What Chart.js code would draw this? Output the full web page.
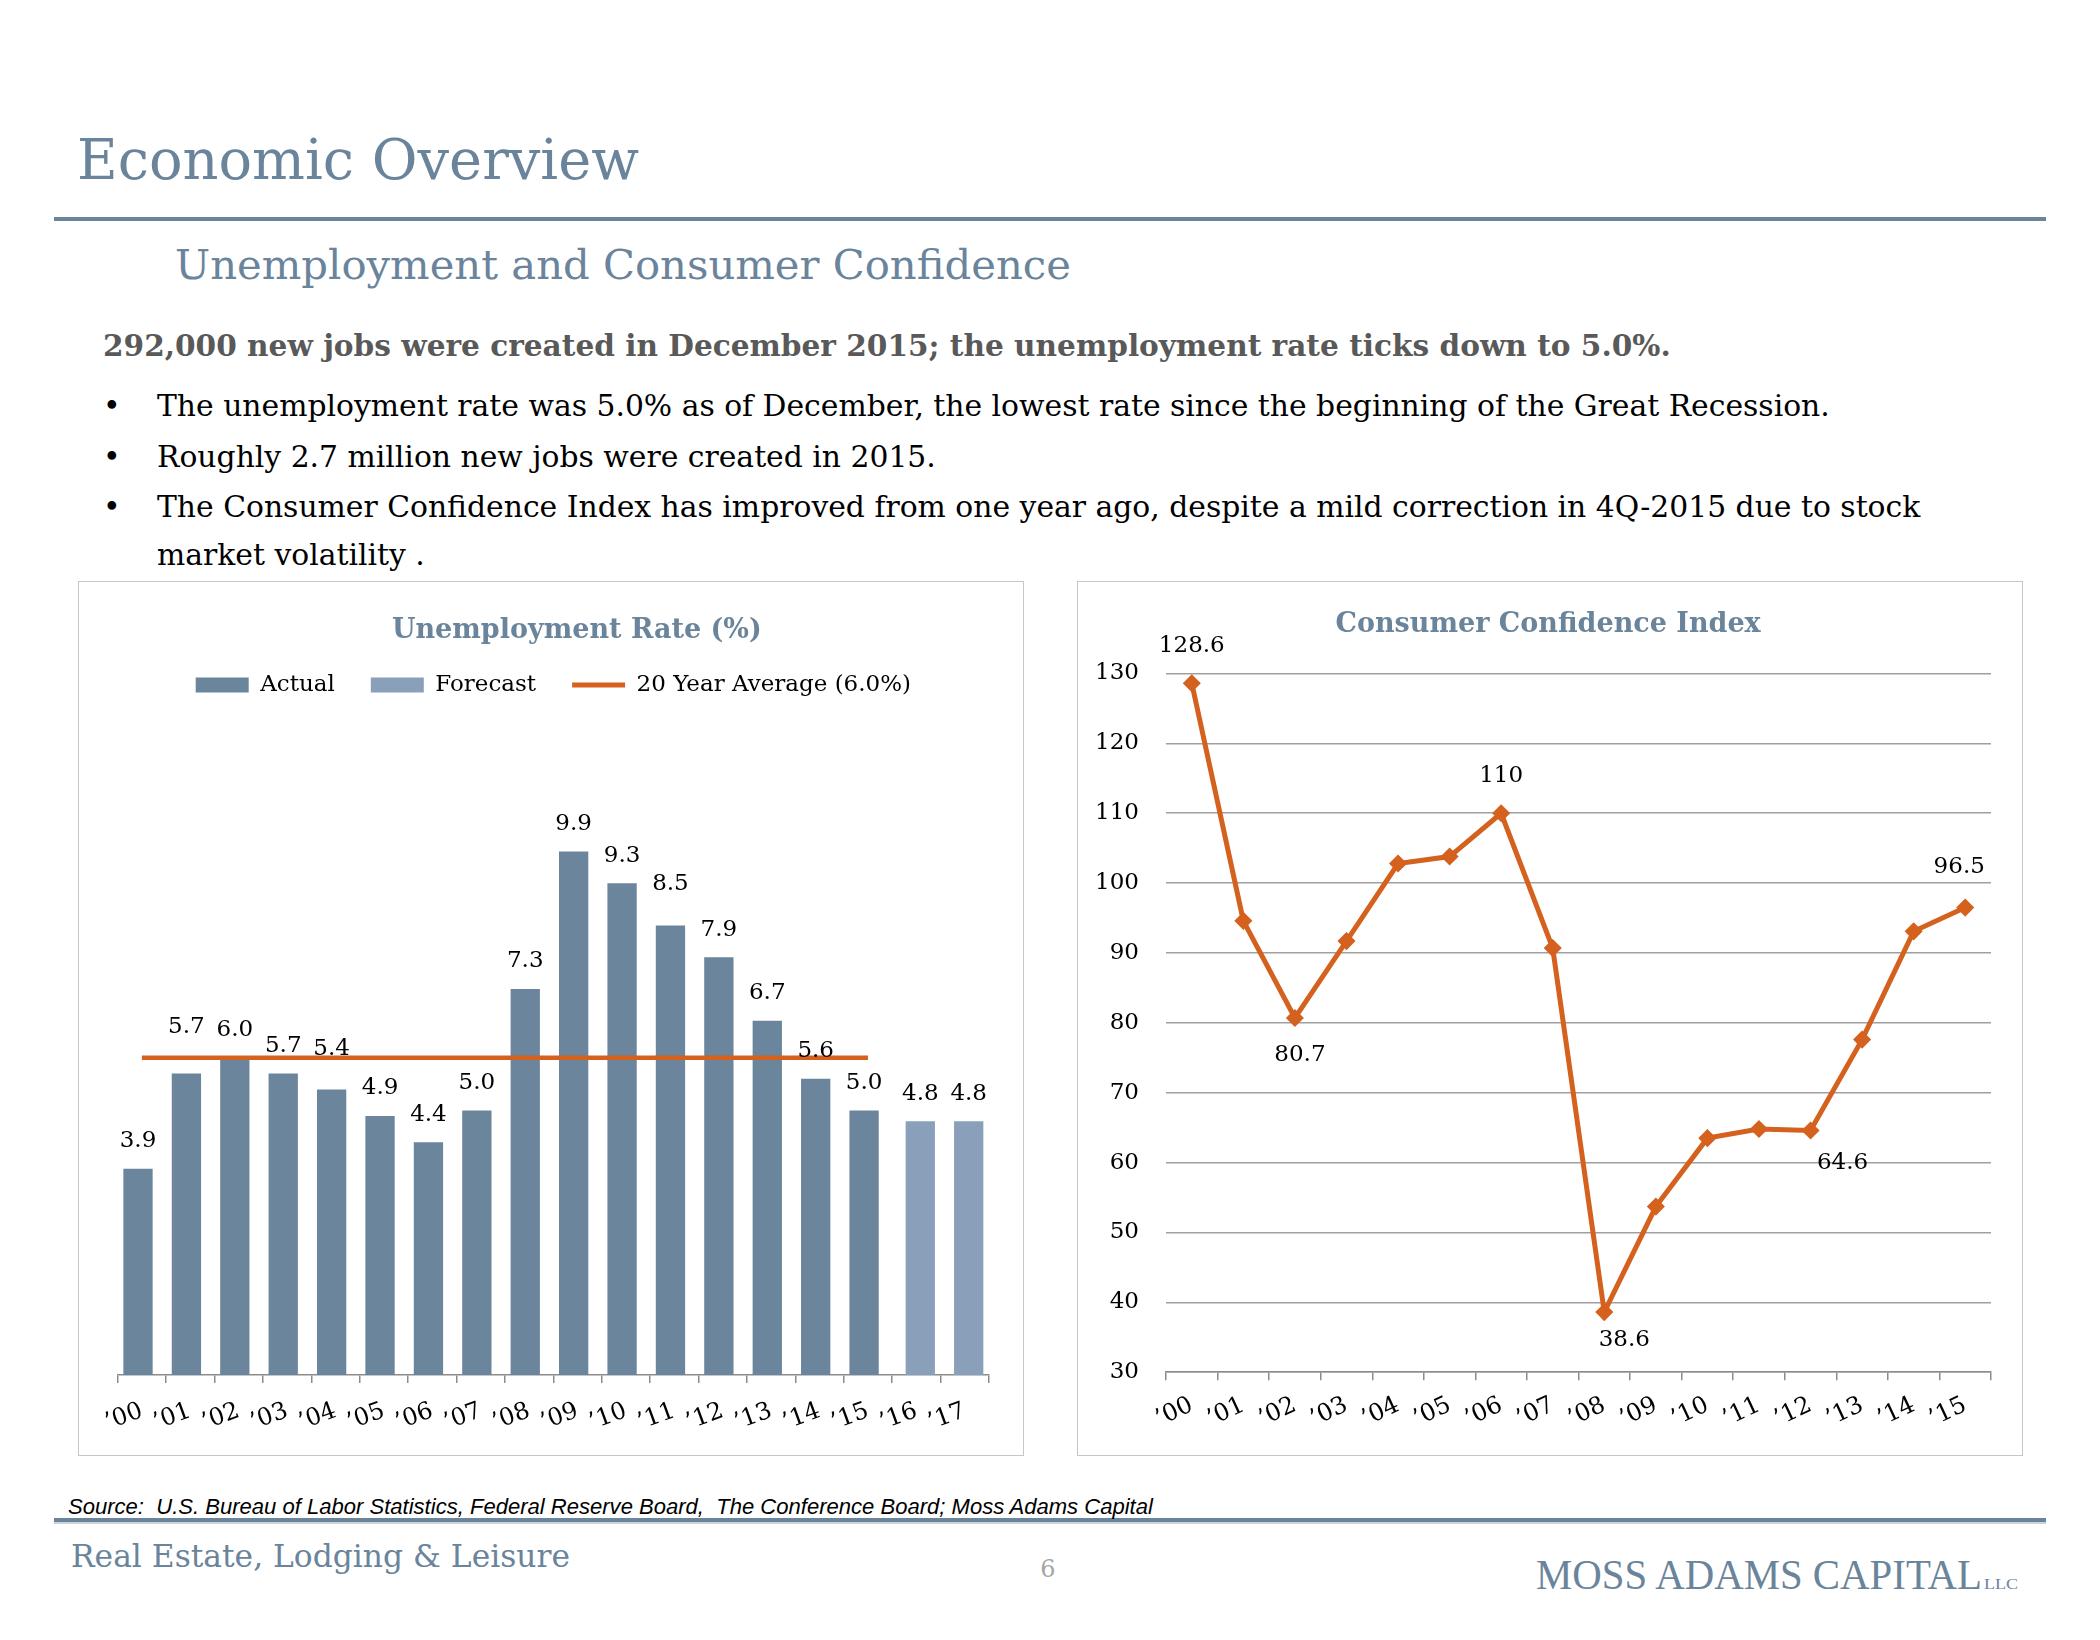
<!DOCTYPE html>
<html>
<head>
<meta charset="utf-8">
<title>Economic Overview</title>
<script src="https://cdn.jsdelivr.net/npm/chart.js@4.4.1/dist/chart.umd.min.js"></script>
<style>
  html, body { margin: 0; padding: 0; background: #fff; }
  #page { position: relative; width: 2100px; height: 1640px; overflow: hidden; background: #fff; }
  #txt { position: absolute; left: 0; top: 0; }
  #txt text { white-space: pre; }
  .box { position: absolute; border: 1.5px solid #c6c6c6; box-sizing: border-box; }
  canvas { position: absolute; }
</style>
</head>
<body>
<div id="page">
  <svg id="txt" width="2100" height="1640" xmlns="http://www.w3.org/2000/svg"></svg>
  <div class="box" style="left:78px;top:581px;width:946px;height:875px"></div>
  <div class="box" style="left:1077px;top:581px;width:946px;height:875px"></div>
  <canvas id="unempChart" width="945" height="874" style="left:78px;top:581px"></canvas>
  <canvas id="cciChart" width="945" height="874" style="left:1077px;top:581px"></canvas>
</div>
<script>
// --- data ---
const years = ['\u201900', '\u201901', '\u201902', '\u201903', '\u201904', '\u201905', '\u201906', '\u201907', '\u201908',
               '\u201909', '\u201910', '\u201911', '\u201912', '\u201913', '\u201914', '\u201915', '\u201916', '\u201917'];
const unempActual   = [3.9, 5.7, 6.0, 5.7, 5.4, 4.9, 4.4, 5.0, 7.3, 9.9, 9.3, 8.5, 7.9, 6.7, 5.6, 5.0, null, null];
const unempForecast = [null, null, null, null, null, null, null, null, null, null, null, null, null, null, null, null, 4.8, 4.8];
const avg20Year     = [6.0, 6.0, 6.0, 6.0, 6.0, 6.0, 6.0, 6.0, 6.0, 6.0, 6.0, 6.0, 6.0, 6.0, 6.0, 6.0, null, null];

const cciYears  = ['\u201900', '\u201901', '\u201902', '\u201903', '\u201904', '\u201905', '\u201906', '\u201907',
                   '\u201908', '\u201909', '\u201910', '\u201911', '\u201912', '\u201913', '\u201914', '\u201915'];
const cciValues = [128.6, 94.6, 80.7, 91.7, 102.8, 103.8, 110.0, 90.7, 38.6, 53.7, 63.5, 64.8, 64.6, 77.6, 93.1, 96.5];

// --- look ---
const SLATE = '#6a849b';
const ACTUAL = '#6b859c';
const FORECAST = '#8aa0ba';
const ORANGE = '#d5611f';
const AXIS = '#8c8c8c';
const SERIF = '"DejaVu Serif", serif';

// extra lift (px) for a few bar labels that sit higher in the original
const barLabelLift = { 1: 19, 4: 13, 11: 14 };
// which CCI points carry a label, and where the label sits
const cciLabelSpots = [
  { i: 0, dx: 0, dy: -37 },
  { i: 2, dx: 5, dy: 37 },
  { i: 6, dx: 0, dy: -37 },
  { i: 8, dx: 20, dy: 28 },
  { i: 12, dx: 32, dy: 33 },
  { i: 15, dx: -6, dy: -41 }
];

// --- page text ---
const SVGNS = 'http://www.w3.org/2000/svg';
const svg = document.getElementById('txt');

function addRect(x, y, w, h, fill) {
  const r = document.createElementNS(SVGNS, 'rect');
  r.setAttribute('x', x); r.setAttribute('y', y);
  r.setAttribute('width', w); r.setAttribute('height', h);
  r.setAttribute('fill', fill);
  svg.appendChild(r);
}

function addText(str, x, y, opts) {
  const t = document.createElementNS(SVGNS, 'text');
  t.textContent = str;
  t.setAttribute('x', x); t.setAttribute('y', y);
  t.setAttribute('font-family', opts.family || SERIF);
  t.setAttribute('font-size', opts.size || 40);
  t.setAttribute('font-weight', opts.weight || 'normal');
  t.setAttribute('font-style', opts.style || 'normal');
  t.setAttribute('fill', opts.color || '#000');
  if (opts.anchor) t.setAttribute('text-anchor', opts.anchor);
  svg.appendChild(t);
  return t;
}

// scale the font so the text spans the width measured on the original
function fitWidth(t, width) {
  const size = parseFloat(t.getAttribute('font-size'));
  const len = t.getComputedTextLength();
  const s = size * width / len;
  t.setAttribute('font-size', s.toFixed(2));
  return s;
}

addRect(54, 217, 1992, 4, SLATE);
addRect(54, 1518, 1992, 4, SLATE);
addRect(54, 1522, 1992, 2, '#c9d3dc');

fitWidth(addText('Economic Overview', 77, 179, { color: SLATE }), 562);
fitWidth(addText('Unemployment and Consumer Confidence', 175, 279, { color: SLATE }), 896);
fitWidth(addText('292,000 new jobs were created in December 2015; the unemployment rate ticks down to 5.0%.', 103, 356,
  { weight: 'bold', color: '#595959' }), 1568);

const bulletLines = [
  ['The unemployment rate was 5.0% as of December, the lowest rate since the beginning of the Great Recession.', 416, true],
  ['Roughly 2.7 million new jobs were created in 2015.', 467, true],
  ['The Consumer Confidence Index has improved from one year ago, despite a mild correction in 4Q-2015 due to stock', 517, true],
  ['market volatility .', 565, false]
];
const first = addText(bulletLines[0][0], 157, bulletLines[0][1], {});
const bodySize = fitWidth(first, 1673);
bulletLines.forEach((b, k) => {
  if (k > 0) addText(b[0], 157, b[1], { size: bodySize });
  if (b[2]) addText('\u2022', 103, b[1], { size: bodySize });
});

fitWidth(addText('Source:  U.S. Bureau of Labor Statistics, Federal Reserve Board,  The Conference Board; Moss Adams Capital', 68, 1514,
  { family: '"Liberation Sans", sans-serif', style: 'italic', color: '#000' }), 1085);
fitWidth(addText('Real Estate, Lodging & Leisure', 71, 1567, { color: SLATE }), 499);
addText('6', 1048, 1577, { size: 24, color: '#a6a6a6', anchor: 'middle' });
const moss = addText('MOSS ADAMS CAPITAL', 1536, 1589, { family: '"Liberation Serif", serif', size: 43, color: SLATE });
moss.setAttribute('textLength', 446);
moss.setAttribute('lengthAdjust', 'spacingAndGlyphs');
const llc = addText('LLC', 1984, 1589, { family: '"Liberation Serif", serif', size: 15, color: SLATE });
llc.setAttribute('textLength', 34);
llc.setAttribute('lengthAdjust', 'spacingAndGlyphs');

// --- charts ---
Chart.defaults.font.family = SERIF;
Chart.defaults.color = '#000';

const barLabels = {
  id: 'barLabels',
  afterDatasetsDraw(chart) {
    const ctx = chart.ctx;
    ctx.save();
    ctx.font = '23px ' + SERIF;
    ctx.fillStyle = '#000';
    ctx.textAlign = 'center';
    ctx.textBaseline = 'middle';
    [0, 1].forEach(di => {
      const meta = chart.getDatasetMeta(di);
      meta.data.forEach((bar, i) => {
        const v = chart.data.datasets[di].data[i];
        if (v === null || v === undefined) return;
        ctx.fillText(v.toFixed(1), bar.x, bar.y - 27.5 - (barLabelLift[i] || 0));
      });
    });
    ctx.restore();
  }
};

const cciLabels = {
  id: 'cciLabels',
  afterDatasetsDraw(chart) {
    const ctx = chart.ctx;
    const meta = chart.getDatasetMeta(0);
    ctx.save();
    ctx.font = '23px ' + SERIF;
    ctx.fillStyle = '#000';
    ctx.textAlign = 'center';
    ctx.textBaseline = 'middle';
    cciLabelSpots.forEach(s => {
      const pt = meta.data[s.i];
      ctx.fillText(String(cciValues[s.i]), pt.x + s.dx, pt.y + s.dy);
    });
    ctx.restore();
  }
};

// the original titles sit a little right of the plot centre; leading spaces nudge them over
new Chart(document.getElementById('unempChart'), {
  data: {
    labels: years,
    datasets: [
      { type: 'bar', label: 'Actual', data: unempActual, backgroundColor: ACTUAL,
        categoryPercentage: 0.322, barPercentage: 3.76, order: 1 },
      { type: 'bar', label: 'Forecast', data: unempForecast, backgroundColor: FORECAST,
        categoryPercentage: 0.322, barPercentage: 3.76, order: 1 },
      { type: 'line', label: '20 Year Average (6.0%)', data: avg20Year, borderColor: ORANGE,
        backgroundColor: ORANGE, borderWidth: 4.5, pointRadius: 0, order: 0, spanGaps: false }
    ]
  },
  options: {
    responsive: false,
    animation: false,
    layout: { padding: { left: 39.7, right: 34, top: 0, bottom: 0 } },
    plugins: {
      title: {
        display: true,
        text: '\u00a0\u00a0\u00a0\u00a0\u00a0Unemployment Rate (%)',
        color: SLATE,
        font: { size: 27, weight: 'bold' },
        padding: { top: 33.5, bottom: -9.3 }
      },
      legend: {
        display: true,
        labels: {
          font: { size: 23 },
          color: '#000',
          padding: 36,
          usePointStyle: true,
          pointStyleWidth: 53,
          boxHeight: 15,
          generateLabels(chart) {
            const items = Chart.defaults.plugins.legend.labels.generateLabels(chart);
            items.forEach(it => {
              const ds = chart.data.datasets[it.datasetIndex];
              if (ds.type === 'line') {
                it.pointStyle = 'line';
                it.strokeStyle = ORANGE;
                it.lineWidth = 5;
              } else {
                it.pointStyle = 'rect';
                it.lineWidth = 0;
              }
            });
            return items.sort((a, b) => a.datasetIndex - b.datasetIndex);
          }
        }
      },
      tooltip: { enabled: false }
    },
    scales: {
      x: {
        offset: true,
        grid: { offset: true, drawOnChartArea: false, drawTicks: true, tickLength: 8, color: AXIS, lineWidth: 1.5 },
        border: { display: true, color: AXIS, width: 1.5 },
        ticks: { font: { size: 24 }, color: '#000', minRotation: 20, maxRotation: 20, padding: 14, autoSkip: false },
        afterFit(scale) { scale.height = 80; }
      },
      y: { display: false, min: 0, max: 12.64 }
    }
  },
  plugins: [barLabels]
});

new Chart(document.getElementById('cciChart'), {
  type: 'line',
  data: {
    labels: cciYears,
    datasets: [{
      label: 'Consumer Confidence Index',
      data: cciValues,
      borderColor: ORANGE,
      backgroundColor: ORANGE,
      borderWidth: 5,
      tension: 0,
      pointStyle: 'rectRot',
      pointRadius: 8,
      pointBackgroundColor: ORANGE,
      pointBorderColor: ORANGE,
      pointBorderWidth: 1.5,
      clip: false
    }]
  },
  options: {
    responsive: false,
    animation: false,
    layout: { padding: { left: 0, right: 31, top: 0, bottom: 0 } },
    plugins: {
      title: {
        display: true,
        text: '\u00a0\u00a0\u00a0Consumer Confidence Index',
        color: SLATE,
        font: { size: 27, weight: 'bold' },
        padding: { top: 28, bottom: 32.1 }
      },
      legend: { display: false },
      tooltip: { enabled: false }
    },
    scales: {
      x: {
        offset: true,
        grid: { offset: true, drawOnChartArea: false, drawTicks: true, tickLength: 8, color: AXIS, lineWidth: 1.5 },
        border: { display: true, color: AXIS, width: 1.5 },
        ticks: { font: { size: 24 }, color: '#000', minRotation: 25, maxRotation: 25, padding: 11, autoSkip: false },
        afterFit(scale) { scale.height = 82.8; }
      },
      y: {
        min: 30,
        max: 130,
        ticks: { stepSize: 10, padding: 27, font: { size: 23 }, color: '#000' },
        grid: { color: '#a0a0a0', lineWidth: 1.5, drawTicks: false },
        border: { display: false },
        afterFit(scale) { scale.width = 89; }
      }
    }
  },
  plugins: [cciLabels]
});
</script>
</body>
</html>
